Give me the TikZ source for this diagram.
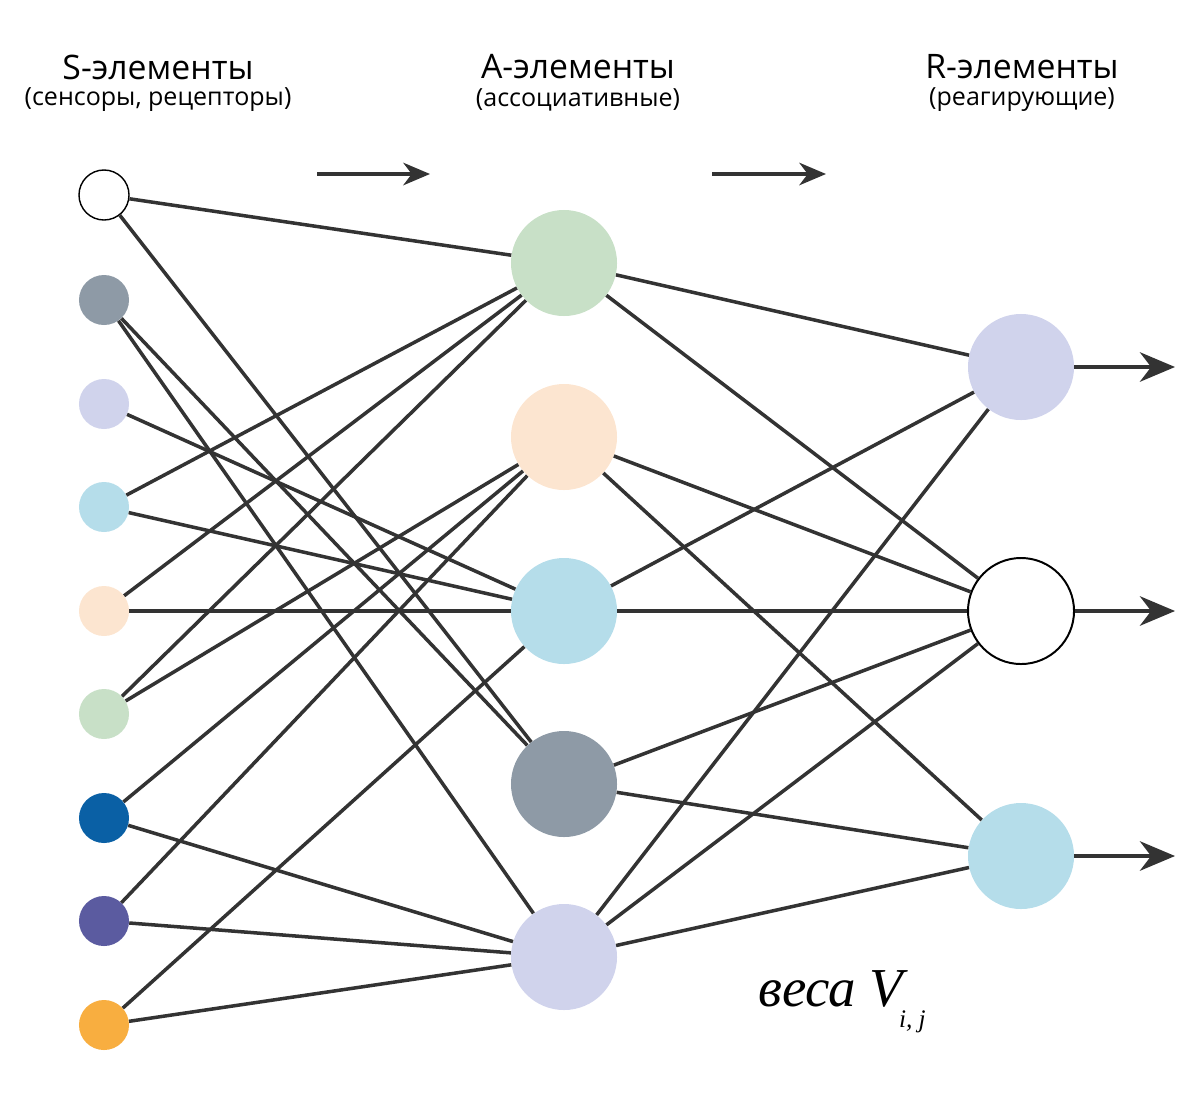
\documentclass[tikz,border=0pt]{standalone}
\usepackage{fontspec}
\setmainfont{Open Sans}
\newfontfamily\weightfont{Liberation Serif}
\usetikzlibrary{arrows.meta}
\definecolor{lineclr}{HTML}{333333}
\definecolor{cgreen}{HTML}{C8E0C7}
\definecolor{cpeach}{HTML}{FCE5D0}
\definecolor{cblue}{HTML}{B5DDEA}
\definecolor{cgrey}{HTML}{8E9AA6}
\definecolor{clav}{HTML}{D0D3EC}
\definecolor{cdark}{HTML}{0A60A5}
\definecolor{cpurple}{HTML}{5B5BA0}
\definecolor{corange}{HTML}{F8AE40}
\tikzset{
  sel/.style={circle, minimum size=1.25cm, inner sep=0pt},
  ael/.style={circle, minimum size=2.65cm, inner sep=0pt},
  link/.style={draw=lineclr, line width=2.5pt},
  outarrow/.style={link, -{Stealth[length=25pt, width=21pt, inset=8pt]}},
  flowarrow/.style={link, -{Stealth[length=19pt, width=16pt, inset=6pt]}},
  title/.style={font=\fontsize{24pt}{28pt}\selectfont},
  subtitle/.style={font=\fontsize{17.8pt}{21pt}\selectfont}
}
\newcommand{\tolinks}[2]{\foreach \t in {#2} \draw[link] (#1) -- (\t);}

\begin{document}
\begin{tikzpicture}[x=0.025cm, y=-0.025cm]
\useasboundingbox (0,0) rectangle (1200,1100);

% headers
\node[title] (stitle) at (158,67) {S-элементы};
\node[subtitle] (ssub) at (158,100) {(сенсоры, рецепторы)};
\node[title] (atitle) at (578,67) {A-элементы};
\node[subtitle] (asub) at (578,100) {(ассоциативные)};
\node[title] (rtitle) at (1022,67) {R-элементы};
\node[subtitle] (rsub) at (1022,100) {(реагирующие)};

% S-elements
\node[sel, draw=black, line width=1pt, fill=white] (s1) at (104,195) {};
\node[sel, fill=cgrey] (s2) at (104,300) {};
\node[sel, fill=clav] (s3) at (104,404) {};
\node[sel, fill=cblue] (s4) at (104,507) {};
\node[sel, fill=cpeach] (s5) at (104,611) {};
\node[sel, fill=cgreen] (s6) at (104,714) {};
\node[sel, fill=cdark] (s7) at (104,818) {};
\node[sel, fill=cpurple] (s8) at (104,921) {};
\node[sel, fill=corange] (s9) at (104,1025) {};

% A-elements
\node[ael, fill=cgreen] (a1) at (564,263) {};
\node[ael, fill=cpeach] (a2) at (564,437) {};
\node[ael, fill=cblue] (a3) at (564,611) {};
\node[ael, fill=cgrey] (a4) at (564,784) {};
\node[ael, fill=clav] (a5) at (564,957) {};

% R-elements
\node[ael, fill=clav] (r1) at (1021,367) {};
\node[ael, draw=black, line width=1.4pt, fill=white] (r2) at (1021,611) {};
\node[ael, fill=cblue] (r3) at (1021,856) {};

% S -> A
\tolinks{s1}{a1,a4}
\tolinks{s2}{a4,a5}
\tolinks{s3}{a3}
\tolinks{s4}{a1,a3}
\tolinks{s5}{a1,a3}
\tolinks{s6}{a1,a2}
\tolinks{s7}{a2,a5}
\tolinks{s8}{a2,a5}
\tolinks{s9}{a3,a5}

% A -> R
\tolinks{a1}{r1,r2}
\tolinks{a2}{r2,r3}
\tolinks{a3}{r1,r2}
\tolinks{a4}{r2,r3}
\tolinks{a5}{r1,r2,r3}

% outputs
\coordinate (o1) at (1175,367);
\coordinate (o2) at (1175,611);
\coordinate (o3) at (1175,856);
\draw[outarrow] (r1) -- (o1);
\draw[outarrow] (r2) -- (o2);
\draw[outarrow] (r3) -- (o3);

% direction arrows
\coordinate (f1a) at (317,174);
\coordinate (f1b) at (430,174);
\coordinate (f2a) at (712,174);
\coordinate (f2b) at (826,174);
\draw[flowarrow] (f1a) -- (f1b);
\draw[flowarrow] (f2a) -- (f2b);

% weights
\node[anchor=base west, inner sep=0pt, font=\weightfont\itshape\fontsize{39pt}{42pt}\selectfont] (wlabel) at (758,1006)
  {веса V\kern-3pt\raisebox{-15pt}{\fontsize{18pt}{20pt}\selectfont i, j}};
\end{tikzpicture}
\end{document}
